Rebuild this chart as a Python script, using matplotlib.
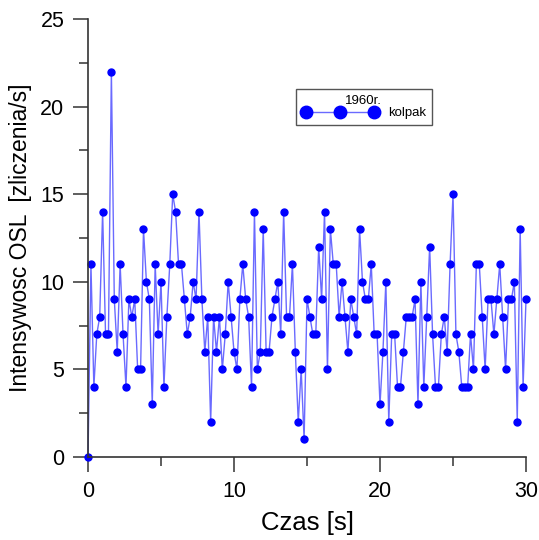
import numpy as np
import matplotlib
matplotlib.use('Agg')
import matplotlib.pyplot as plt

plt.rcParams['font.family'] = ['Liberation Sans', 'DejaVu Sans']

# OSL counts, one point every 0.2 s from 0 to 30 s
counts = [0, 11, 4, 7, 8, 14, 7, 7, 22, 9,
          6, 11, 7, 4, 9, 8, 9, 5, 5, 13,
          10, 9, 3, 11, 7, 10, 4, 8, 11, 15,
          14, 11, 11, 9, 7, 8, 10, 9, 14, 9,
          6, 8, 2, 8, 6, 8, 5, 7, 10, 8,
          6, 5, 9, 11, 9, 8, 4, 14, 5, 6,
          13, 6, 6, 8, 9, 10, 7, 14, 8, 8,
          11, 6, 2, 5, 1, 9, 8, 7, 7, 12,
          9, 14, 5, 13, 11, 11, 8, 10, 8, 6,
          9, 8, 7, 13, 10, 9, 9, 11, 7, 7,
          3, 6, 10, 2, 7, 7, 4, 4, 6, 8,
          8, 8, 9, 3, 10, 4, 8, 12, 7, 4,
          4, 7, 8, 6, 11, 15, 7, 6, 4, 4,
          4, 7, 5, 11, 11, 8, 5, 9, 9, 7,
          9, 11, 8, 5, 9, 9, 10, 2, 13, 4,
          9]
time = np.linspace(0, 30, len(counts))

x_major = [0, 10, 20, 30]
x_minor = [5, 15, 25]
y_major = [0, 5, 10, 15, 20, 25]
y_minor = [2.5, 7.5, 12.5, 17.5, 22.5]

fig = plt.figure(figsize=(5.39, 5.40), dpi=100)
ax = fig.add_axes([0.1633, 0.1537, 0.8126, 0.8111])

ax.plot(time, counts, color='#6a6aff', lw=1.0, marker='o', ms=5,
        mfc='#0000ff', mec='#0000ff', clip_on=False, label='kolpak')

ax.set_xlim(0, 30)
ax.set_ylim(0, 25)
ax.set_xticks(x_major)
ax.set_xticks(x_minor, minor=True)
ax.set_yticks(y_major)
ax.set_yticks(y_minor, minor=True)

for side in ['top', 'right']:
    ax.spines[side].set_visible(False)
for side in ['left', 'bottom']:
    ax.spines[side].set_linewidth(1.2)
    ax.spines[side].set_color('#333333')

ax.tick_params(which='major', direction='out', length=11, width=1.1,
               labelsize=15.5, pad=6, color='#333333')
ax.tick_params(which='minor', direction='out', length=6.5, width=1.1,
               color='#333333')

ax.set_xlabel('Czas [s]', fontsize=18.5, labelpad=7)
ax.set_ylabel('Intensywosc OSL  [zliczenia/s]', fontsize=16.5, labelpad=6)

# legend with the year as its title, like the Origin original
leg = ax.legend(loc='upper left', bbox_to_anchor=(0.474, 0.840),
                borderaxespad=0, numpoints=3, markerscale=1.8, fontsize=9.5,
                title='1960r.', title_fontsize=9.5, labelspacing=0,
                handlelength=5.8, handletextpad=0.75, borderpad=0.45,
                fancybox=False, edgecolor='#555555', framealpha=1)
leg.get_frame().set_linewidth(1.0)

fig.savefig('out.png', dpi=100)
